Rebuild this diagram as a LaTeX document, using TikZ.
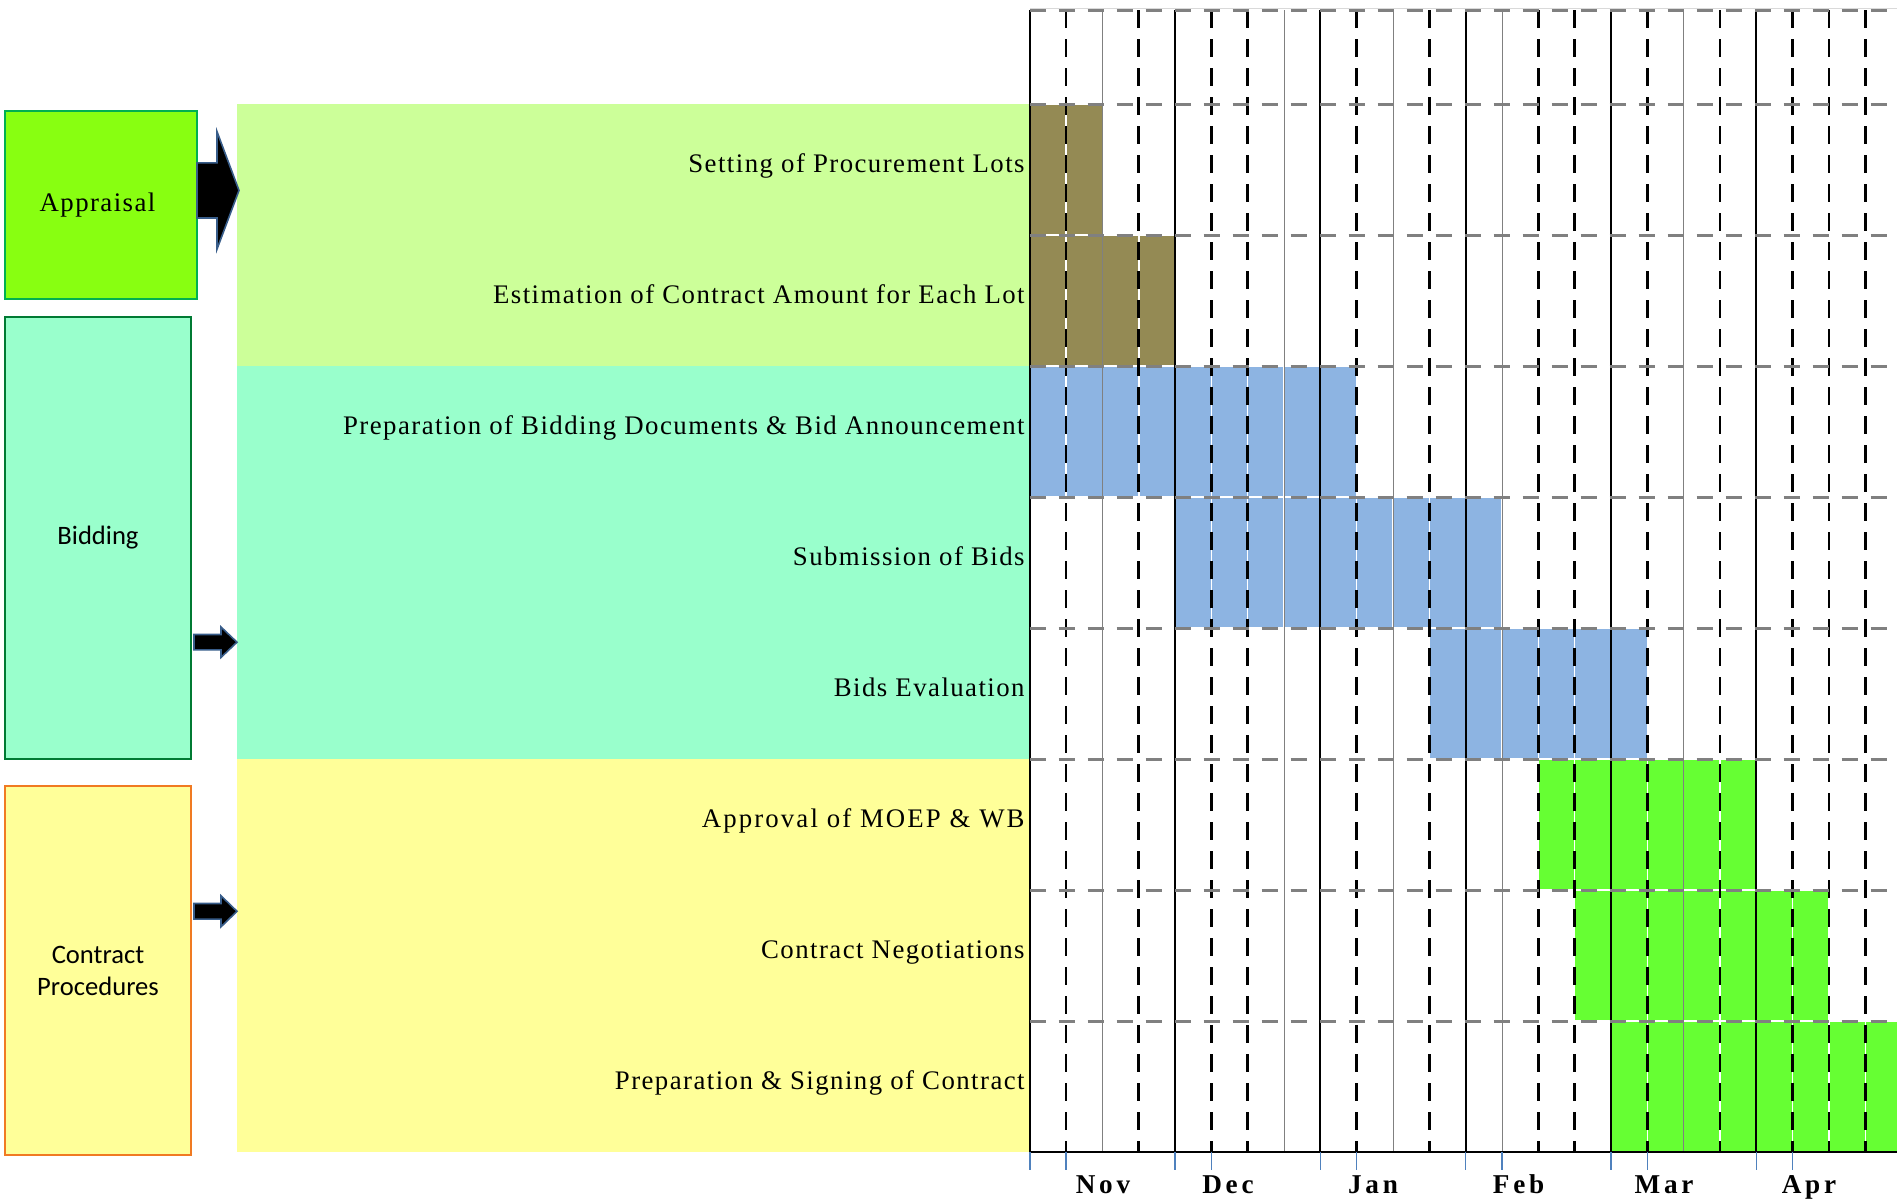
\documentclass[tikz,border=0pt]{standalone}
\usepackage{fontspec}
\setmainfont{Liberation Serif}
\setsansfont{Carlito}
\newfontfamily\taskfont[LetterSpace=5.4]{Liberation Serif}
\newfontfamily\widetaskfont[LetterSpace=7.9]{Liberation Serif}
\newfontfamily\monthfont[LetterSpace=14]{Liberation Serif}
\definecolor{lotbrown}{HTML}{948A54}
\definecolor{bidblue}{HTML}{8DB4E2}
\definecolor{signgreen}{HTML}{66FF33}
\definecolor{appraisalpanel}{HTML}{CCFF99}
\definecolor{biddingpanel}{HTML}{99FFCC}
\definecolor{contractpanel}{HTML}{FFFF99}
\definecolor{appraisalfill}{HTML}{88FF11}
\definecolor{appraisaledge}{HTML}{00B050}
\definecolor{biddingedge}{HTML}{007A33}
\definecolor{contractedge}{HTML}{F07A22}
\definecolor{arrowedge}{HTML}{385D8A}
\definecolor{tickblue}{HTML}{4F81BD}

\begin{document}
\begin{tikzpicture}[%
		x=0.5pt, y=-0.5pt,
		phasebox/.style={
			rectangle,
			line width=1pt,
			align=center,
			inner sep=0pt,
			draw
		},
		taskname/.style={
			anchor=base east,
			inner sep=0pt,
			font=\fontsize{13.4}{16}\selectfont\taskfont
		},
		monthname/.style={
			anchor=base,
			inner sep=0pt,
			font=\fontsize{13.6}{16}\selectfont\monthfont\bfseries
		},
		ganttcell/.style={
			draw=white,
			line width=0.8pt
		},
		monthline/.style={
			black,
			line width=1pt
		},
		weekline/.style={
			black,
			line width=1.3pt,
			dash pattern=on 9pt off 5.5pt
		},
		thinline/.style={
			gray,
			line width=0.5pt
		},
		rowline/.style={
			gray,
			line width=1.5pt,
			dash pattern=on 8pt off 6.5pt
		},
		blockarrow/.style={
			fill=black,
			draw=arrowedge,
			line width=0.8pt,
			line join=miter
		}]

		\useasboundingbox (0,0) rectangle (1897,1199);
		\clip (0,0) rectangle (1897,1199);

		% PHASE PANELS

		\fill[appraisalpanel] (237,104) rectangle (1030,366);
		\fill[biddingpanel] (237,366) rectangle (1030,759);
		\fill[contractpanel] (237,759) rectangle (1030,1152);

		% PHASE BOXES

		\node (appraisal) [phasebox, fill=appraisalfill, draw=appraisaledge, minimum width=96pt, minimum height=94pt, font=\fontsize{13.4}{16}\selectfont\taskfont] at (101,205) {Appraisal\kern3.5pt};
		\node (bidding) [phasebox, fill=biddingpanel, draw=biddingedge, minimum width=93pt, minimum height=221pt, font=\fontsize{13.3}{16}\selectfont\sffamily] at (98,538) {Bidding};
		\node (contract) [phasebox, fill=contractpanel, draw=contractedge, minimum width=93pt, minimum height=184.5pt, font=\fontsize{13.3}{16}\selectfont\sffamily] at (98,970.5) {Contract\\Procedures};

		% BLOCK ARROWS

		\foreach \ax/\ay/\sh/\hd/\sl/\hl in {197/190.4/27.6/58.8/20/22, 194/642.2/7.7/15.2/27/16, 194/911.3/7.8/15.5/27/16}
			\filldraw[blockarrow] (\ax,\ay) ++(0,-\sh) -- ++(\sl,0) -- ++(0,\sh-\hd) -- ++(\hl,\hd) -- ++(-\hl,\hd) -- ++(0,\sh-\hd) -- ++(-\sl,0) -- cycle;

		% BARS

		\foreach \row/\first/\last/\shade in {1/0/1/lotbrown, 2/0/3/lotbrown, 3/0/8/bidblue, 4/4/12/bidblue, 5/11/16/bidblue, 6/14/19/signgreen, 7/15/21/signgreen, 8/16/23/signgreen}
			\foreach \col in {\first,...,\last}
				\filldraw[ganttcell, fill=\shade] (1029.7+\col*36.33, \row*131-27) rectangle ++(36.33,131);

		% GRID

		\draw[gray!30, line width=0.5pt] (1029.7,8) -- (1897,8);
		\foreach \col in {2,7,10,13,18}
			\draw[thinline] (1029.7+\col*36.33,10) -- ++(0,1142);
		\foreach \col in {1,3,5,6,9,11,14,15,17,19,21,22,23}
			\draw[weekline] (1029.7+\col*36.33,10) -- ++(0,1142);
		\foreach \col in {0,4,...,20}
			\draw[monthline] (1029.7+\col*36.33,10) -- ++(0,1142);
		\draw[rowline] (1029.7,10) -- (1897,10);
		\foreach \row in {0,...,7}
			\draw[rowline] (1029.7,104+\row*131) -- (1897,104+\row*131);
		\draw[black, line width=1.4pt] (1029.7,1152) -- (1897,1152);

		% TIME AXIS

		\foreach \col in {0,1,4,5,8,9,12,13,16,17,20,21}
			\draw[tickblue, line width=0.8pt] (1029.7+\col*36.33,1152) -- ++(0,18);
		\foreach \m/\x in {Nov/1103, Dec/1228, Jan/1373, Feb/1518.6, Mar/1664, Apr/1809}
			\node (m\m) [monthname] at (\x,1193) {\m};

		% TASK LABELS

		\foreach \row/\task in {1/Setting of Procurement Lots, 2/Estimation of Contract Amount for Each Lot, 3/Preparation of Bidding Documents \& Bid Announcement, 4/Submission of Bids, 5/Bids Evaluation, 6/{\widetaskfont Approval of MOEP \& WB}, 7/Contract Negotiations, 8/Preparation \& Signing of Contract}
			\node (task\row) [taskname] at (1025,\row*131-27+68.5) {\task};
\end{tikzpicture}
\end{document}
